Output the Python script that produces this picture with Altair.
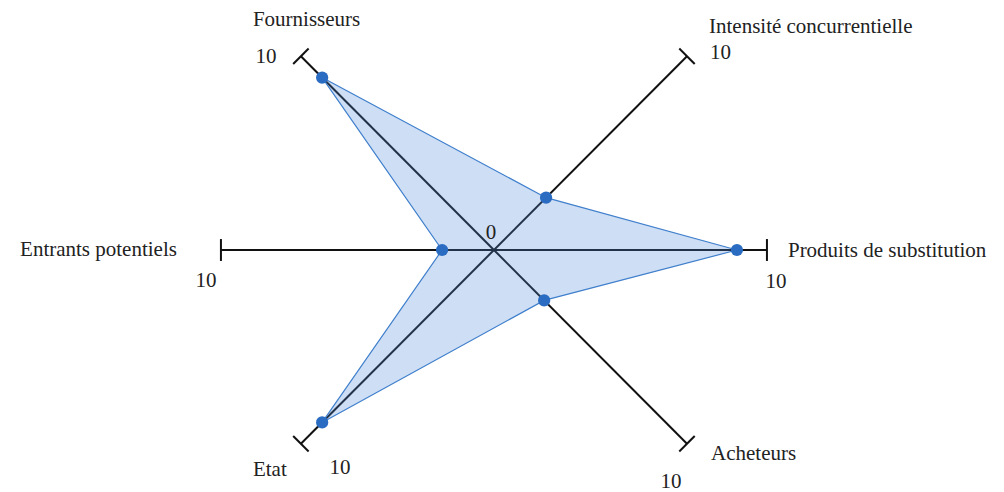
import altair as alt
import pandas as pd

# ---- data ----
categories = ["Produits de substitution", "Intensité concurrentielle", "Fournisseurs",
              "Entrants potentiels", "Etat", "Acheteurs"]
angles_deg = [0, 45, 135, 180, 225, 315]
values = [8.9, 2.7, 8.9, 1.9, 8.9, 2.6]
axis_max = [10, 10, 10, 10, 10, 10]
max_labels = ["10", "10", "10", "10", "10", "10"]
center_label = ["0"]

df = pd.DataFrame({
    "cat": categories, "angle": angles_deg, "value": values,
    "max": axis_max, "maxlabel": max_labels, "idx": list(range(len(categories))),
})
df_poly = pd.concat([df, df.iloc[[0]].assign(idx=len(categories))], ignore_index=True)
df_center = pd.DataFrame({"lab": center_label, "v": [0]})

# ---- styling / layout (not data) ----
FONT = "'Liberation Serif', 'Times New Roman', 'DejaVu Serif', serif"
FS = 21
TICK_HALF = 0.4
xs = alt.Scale(domain=[-17.80, 18.39], nice=False, zero=False)
ys = alt.Scale(domain=[-8.54, 8.832], nice=False, zero=False)

cat_style = {
    0: dict(align="left", dx=21, dy=1),
    1: dict(align="left", dx=22, dy=-29),
    2: dict(align="left", dx=-48, dy=-36),
    3: dict(align="right", dx=-44, dy=0),
    4: dict(align="left", dx=-48, dy=26),
    5: dict(align="left", dx=24, dy=10),
}
max_style = {
    0: dict(align="center", dx=9, dy=32),
    1: dict(align="left", dx=23, dy=-3),
    2: dict(align="center", dx=-35, dy=1),
    3: dict(align="center", dx=-15, dy=31),
    4: dict(align="center", dx=39, dy=24),
    5: dict(align="center", dx=-16, dy=38),
}

RAD = "datum.angle*PI/180"

def X(f):
    return alt.X(f, type="quantitative", scale=xs, axis=None)

def Y(f):
    return alt.Y(f, type="quantitative", scale=ys, axis=None)

base = alt.Chart(df)

axes = base.transform_calculate(
    x0="0", y0="0",
    x1=f"datum.max*cos({RAD})", y1=f"datum.max*sin({RAD})",
).mark_rule(color="#111111", strokeWidth=2).encode(
    x=X("x0"), y=Y("y0"), x2="x1:Q", y2="y1:Q")

ticks = base.transform_calculate(
    ta=f"datum.max*cos({RAD}) + {TICK_HALF}*sin({RAD})",
    tb=f"datum.max*sin({RAD}) - {TICK_HALF}*cos({RAD})",
    tc=f"datum.max*cos({RAD}) - {TICK_HALF}*sin({RAD})",
    td=f"datum.max*sin({RAD}) + {TICK_HALF}*cos({RAD})",
).mark_rule(color="#111111", strokeWidth=2).encode(
    x=X("ta"), y=Y("tb"), x2="tc:Q", y2="td:Q")

poly = alt.Chart(df_poly).transform_calculate(
    px=f"datum.value*cos({RAD})", py=f"datum.value*sin({RAD})",
).mark_line(fill="#4f8ad6", fillOpacity=0.28, stroke="#3f7fcc", strokeWidth=1.2).encode(
    x=X("px"), y=Y("py"), order=alt.Order("idx:Q"))

points = base.transform_calculate(
    px=f"datum.value*cos({RAD})", py=f"datum.value*sin({RAD})",
).mark_circle(size=150, color="#2a6cc2", opacity=1).encode(
    x=X("px"), y=Y("py"))

layers = [axes, ticks, poly, points]

for i in range(len(categories)):
    ends = base.transform_filter(f"datum.idx == {i}").transform_calculate(
        ex=f"datum.max*cos({RAD})", ey=f"datum.max*sin({RAD})")
    layers.append(ends.mark_text(font=FONT, fontSize=FS, color="#222222",
                                 baseline="middle", **cat_style[i]).encode(
        x=X("ex"), y=Y("ey"), text="cat:N"))
    layers.append(ends.mark_text(font=FONT, fontSize=FS, color="#222222",
                                 baseline="middle", **max_style[i]).encode(
        x=X("ex"), y=Y("ey"), text="maxlabel:N"))

zero = alt.Chart(df_center).mark_text(font=FONT, fontSize=FS, color="#222222",
                                      align="center", baseline="middle",
                                      dx=-3, dy=-17).encode(
    x=X("v"), y=Y("v"), text="lab:N")
layers.append(zero)

chart = alt.layer(*layers).properties(
    width=988, height=476, padding=0, background="white"
).configure_view(stroke=None)

chart.save("out.html", embed_options={"renderer": "svg", "actions": False})
